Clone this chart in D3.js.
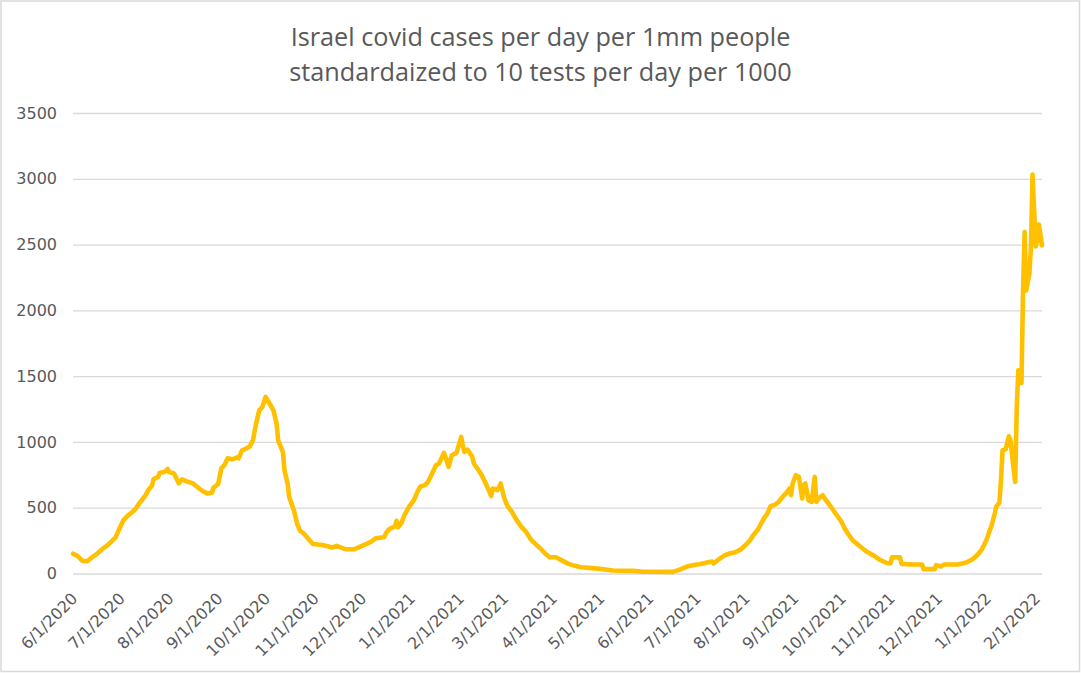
<!DOCTYPE html>
<html>
<head>
<meta charset="utf-8">
<script src="https://cdn.jsdelivr.net/npm/d3@7"></script>
<style>
  html, body { margin: 0; padding: 0; background: #fff; }
  .canvas text { font-family: 'Open Sans', 'Liberation Sans', sans-serif; fill: #595959; }
  .canvas .tick text { font-family: 'DejaVu Sans', sans-serif; }
</style>
</head>
<body>
<div class="canvas"></div>
<script>
/* global d3:true */

/*--------------------------------
  DATA
--------------------------------*/
const titleLines = [
  'Israel covid cases per day per 1mm people',
  'standardaized to 10 tests per day per 1000',
];

const yTicks = [0, 500, 1000, 1500, 2000, 2500, 3000, 3500];

const dates = [
  '2020-06-01', '2020-06-04', '2020-06-07', '2020-06-10', '2020-06-13', '2020-06-16', '2020-06-20', '2020-06-23',
  '2020-06-28', '2020-06-30', '2020-07-03', '2020-07-05', '2020-07-08', '2020-07-10', '2020-07-13', '2020-07-17',
  '2020-07-19', '2020-07-21', '2020-07-22', '2020-07-25', '2020-07-26', '2020-07-29', '2020-07-31', '2020-08-01',
  '2020-08-04', '2020-08-05', '2020-08-07', '2020-08-09', '2020-08-12', '2020-08-16', '2020-08-18', '2020-08-22',
  '2020-08-25', '2020-08-28', '2020-08-29', '2020-09-01', '2020-09-03', '2020-09-05', '2020-09-07', '2020-09-10',
  '2020-09-13', '2020-09-14', '2020-09-16', '2020-09-19', '2020-09-21', '2020-09-23', '2020-09-25', '2020-09-27',
  '2020-09-29', '2020-10-01', '2020-10-03', '2020-10-06', '2020-10-08', '2020-10-09', '2020-10-12', '2020-10-13',
  '2020-10-15', '2020-10-16', '2020-10-19', '2020-10-21', '2020-10-23', '2020-10-25', '2020-10-28', '2020-10-31',
  '2020-11-06', '2020-11-10', '2020-11-12', '2020-11-15', '2020-11-18', '2020-11-21', '2020-11-26', '2020-11-30',
  '2020-12-04', '2020-12-07', '2020-12-10', '2020-12-15', '2020-12-17', '2020-12-19', '2020-12-22', '2020-12-23',
  '2020-12-24', '2020-12-26', '2020-12-28', '2020-12-31', '2021-01-03', '2021-01-05', '2021-01-07', '2021-01-10',
  '2021-01-12', '2021-01-14', '2021-01-17', '2021-01-19', '2021-01-22', '2021-01-23', '2021-01-25', '2021-01-27',
  '2021-01-30', '2021-02-02', '2021-02-03', '2021-02-04', '2021-02-06', '2021-02-09', '2021-02-10', '2021-02-13',
  '2021-02-15', '2021-02-17', '2021-02-18', '2021-02-21', '2021-02-22', '2021-02-25', '2021-02-27', '2021-03-01',
  '2021-03-03', '2021-03-06', '2021-03-09', '2021-03-12', '2021-03-15', '2021-03-18', '2021-03-21', '2021-03-24',
  '2021-03-27', '2021-03-30', '2021-04-03', '2021-04-07', '2021-04-11', '2021-04-15', '2021-04-19', '2021-04-24',
  '2021-05-01', '2021-05-09', '2021-05-22', '2021-05-28', '2021-06-16', '2021-06-20', '2021-06-25', '2021-07-01',
  '2021-07-03', '2021-07-07', '2021-07-11', '2021-07-12', '2021-07-15', '2021-07-19', '2021-07-22', '2021-07-25',
  '2021-07-29', '2021-08-01', '2021-08-04', '2021-08-06', '2021-08-09', '2021-08-11', '2021-08-13', '2021-08-15',
  '2021-08-17', '2021-08-20', '2021-08-22', '2021-08-25', '2021-08-27', '2021-08-29', '2021-08-30', '2021-08-31',
  '2021-09-02', '2021-09-04', '2021-09-06', '2021-09-07', '2021-09-08', '2021-09-10', '2021-09-12', '2021-09-14',
  '2021-09-15', '2021-09-17', '2021-09-19', '2021-09-21', '2021-09-22', '2021-09-25', '2021-09-28', '2021-10-01',
  '2021-10-03', '2021-10-05', '2021-10-08', '2021-10-13', '2021-10-17', '2021-10-21', '2021-10-25', '2021-10-30',
  '2021-11-01', '2021-11-02', '2021-11-07', '2021-11-08', '2021-11-15', '2021-11-21', '2021-11-22', '2021-11-29',
  '2021-11-30', '2021-12-03', '2021-12-05', '2021-12-13', '2021-12-15', '2021-12-19', '2021-12-23', '2021-12-26',
  '2021-12-29', '2022-01-01', '2022-01-03', '2022-01-04', '2022-01-06', '2022-01-07', '2022-01-09', '2022-01-10',
  '2022-01-11', '2022-01-13', '2022-01-15', '2022-01-16', '2022-01-19', '2022-01-20', '2022-01-21', '2022-01-23',
  '2022-01-24', '2022-01-25', '2022-01-26', '2022-01-28', '2022-01-29', '2022-01-30', '2022-02-01', '2022-02-02',
  '2022-02-03', '2022-02-05',
];

const cases = [
  150, 132, 96, 94, 122, 147, 190, 216,
  274, 330, 406, 431, 462, 482, 533, 596,
  640, 665, 716, 736, 766, 772, 794, 769,
  761, 736, 685, 716, 700, 685, 665, 627,
  609, 614, 652, 680, 799, 825, 876, 868,
  883, 876, 934, 952, 966, 1012, 1139, 1240,
  1266, 1342, 1304, 1240, 1139, 1012, 923, 784,
  682, 581, 479, 378, 322, 307, 264, 224,
  217, 205, 197, 210, 197, 184, 184, 205,
  225, 242, 268, 275, 318, 343, 356, 401,
  351, 381, 444, 508, 558, 615, 660, 672,
  697, 747, 823, 836, 917, 886, 811, 899,
  917, 1038, 975, 924, 942, 886, 836, 785,
  747, 697, 672, 588, 646, 634, 684, 583,
  520, 470, 407, 356, 318, 260, 225, 192,
  154, 124, 124, 98, 73, 58, 48, 43,
  35, 23, 20, 13, 12, 28, 53, 68,
  71, 81, 91, 76, 106, 139, 152, 159,
  182, 215, 253, 291, 334, 380, 423, 456,
  511, 524, 544, 587, 613, 646, 595, 684,
  747, 734, 570, 671, 684, 557, 544, 734,
  544, 577, 595, 557, 544, 494, 443, 392,
  342, 304, 253, 203, 165, 139, 105, 78,
  78, 124, 124, 73, 68, 68, 33, 33,
  63, 53, 68, 68, 73, 83, 109, 141,
  184, 260, 331, 361, 452, 508, 538, 710,
  935, 945, 1043, 1013, 696, 1266, 1544, 1448,
  2152, 2595, 2152, 2278, 2481, 3033, 2486, 2532,
  2653, 2494,
];

/*--------------------------------
  SETUP
--------------------------------*/
const width = 1081;
const height = 673;
const margin = {
  top: 113, right: 39, bottom: 99.5, left: 73,
};
const graphWidth = width - margin.left - margin.right;
const graphHeight = height - margin.top - margin.bottom;

const parseDate = d3.timeParse('%Y-%m-%d');
const data = dates.map((d, i) => ({ date: parseDate(d), value: cases[i] }));

const svg = d3.select('.canvas')
  .append('svg')
  .attr('width', width)
  .attr('height', height);

// chart border
svg.append('rect')
  .attr('x', 1)
  .attr('y', 1)
  .attr('width', width - 2.5)
  .attr('height', height - 2.5)
  .attr('fill', '#fff')
  .attr('stroke', '#d9d9d9')
  .attr('stroke-width', 1.5);

const graph = svg.append('g')
  .attr('transform', `translate(${margin.left}, ${margin.top})`);

// scales
const x = d3.scaleTime()
  .domain(d3.extent(data, d => d.date))
  .range([0, graphWidth]);

const y = d3.scaleLinear()
  .domain([0, d3.max(yTicks)])
  .range([graphHeight, 0]);

/*--------------------------------
  AXES
--------------------------------*/
const yAxis = d3.axisLeft(y)
  .tickValues(yTicks)
  .tickFormat(d3.format('d'))
  .tickSize(-graphWidth)
  .tickPadding(16);

const yAxisGroup = graph.append('g').call(yAxis);
yAxisGroup.select('.domain').remove();
yAxisGroup.selectAll('line')
  .attr('stroke', '#d9d9d9')
  .attr('stroke-width', 1.3);
yAxisGroup.selectAll('text')
  .attr('font-size', 16);

const xAxis = d3.axisBottom(x)
  .ticks(d3.timeMonth.every(1))
  .tickFormat(d3.timeFormat('%-m/%-d/%Y'))
  .tickSize(0);

const xAxisGroup = graph.append('g')
  .attr('transform', `translate(0, ${graphHeight})`)
  .call(xAxis);
xAxisGroup.select('.domain').remove();
// rotated labels, end of the text tucked just right of the tick
xAxisGroup.selectAll('text')
  .attr('font-size', 16)
  .attr('x', 0)
  .attr('y', 0)
  .attr('dy', '0.71em')
  .attr('text-anchor', 'end')
  .attr('transform', 'translate(-3, 18) rotate(-45)');

/*--------------------------------
  LINE
--------------------------------*/
const line = d3.line()
  .x(d => x(d.date))
  .y(d => y(d.value));

graph.append('path')
  .datum(data)
  .attr('fill', 'none')
  .attr('stroke', '#ffc000')
  .attr('stroke-width', 4.6)
  .attr('stroke-linejoin', 'round')
  .attr('stroke-linecap', 'round')
  .attr('d', line);

/*--------------------------------
  TITLE
--------------------------------*/
const title = svg.append('g')
  .attr('text-anchor', 'middle');

title.selectAll('text')
  .data(titleLines)
  .enter()
  .append('text')
  .attr('x', width / 2)
  .attr('y', (d, i) => 46 + i * 35)
  .attr('font-size', 20)
  .text(d => d);

// scale title font so the first line spans about 500px like the original
const firstLen = title.select('text').node().getComputedTextLength();
title.selectAll('text').attr('font-size', 20 * (500 / firstLen));
</script>
</body>
</html>
